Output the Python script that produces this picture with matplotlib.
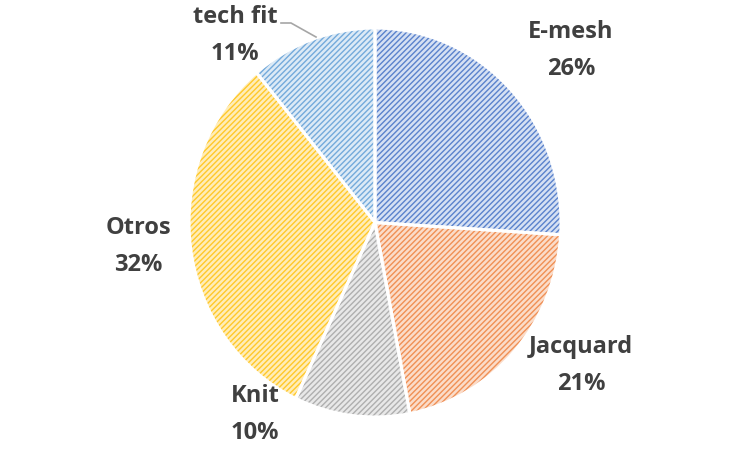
import matplotlib
matplotlib.use("Agg")
import matplotlib.pyplot as plt
from matplotlib.lines import Line2D

# data
labels = ["E-mesh", "Jacquard", "Knit", "Otros", "tech fit"]
values = [26, 21, 10, 32, 11]
hatch_colors = ["#5A82CC", "#F09055", "#AFAFAF", "#FFC82A", "#74AADB"]
face_colors = ["#D5E0F3", "#FBDCC9", "#E8E8E8", "#FFEDB8", "#DCEAF6"]

# label centers x and baseline of first line (pixels from top)
label_pos = [(571, 38), (581, 353), (255, 402), (138, 234), (235, 23)]
line_gap = 37

W, H = 750, 451
cx, cy = 375, 222.5      # pie centre in pixels (from top)
rx, ry = 186, 194.5      # the reference pie is slightly taller than wide

plt.rcParams["hatch.linewidth"] = 1.0

fig = plt.figure(figsize=(W / 100, H / 100), dpi=100)
ax = fig.add_axes([0, 0, 1, 1])

# hatched fill
wedges, _ = ax.pie(values, startangle=90, counterclock=False, frame=True)
for w, fc, hc in zip(wedges, face_colors, hatch_colors):
    w.set_facecolor(fc)
    w.set_edgecolor(hc)
    w.set_hatch("//////")
    w.set_linewidth(0)

# white borders on top
ax.pie(values, startangle=90, counterclock=False, frame=True,
       wedgeprops=dict(fill=False, edgecolor="white", linewidth=2.2))

ax.set_aspect("auto")
ax.set_xlim(-cx / rx, (W - cx) / rx)
ax.set_ylim(-(H - cy) / ry, cy / ry)
ax.axis("off")

total = sum(values)
txt = dict(ha="center", va="baseline", fontsize=17, fontweight="bold",
           family="Open Sans", color="#404040")
for lab, v, (x, y) in zip(labels, values, label_pos):
    fig.text(x / W, 1 - y / H, lab, **txt)
    fig.text(x / W, 1 - (y + line_gap) / H, f"{round(100 * v / total)}%", **txt)

# leader line for tech fit
lx = [281, 291, 316]
ly = [23, 23, 37]
fig.add_artist(Line2D([p / W for p in lx], [1 - p / H for p in ly],
                      transform=fig.transFigure, color="#A6A6A6", linewidth=1.2))

fig.savefig("out.png", dpi=100)
